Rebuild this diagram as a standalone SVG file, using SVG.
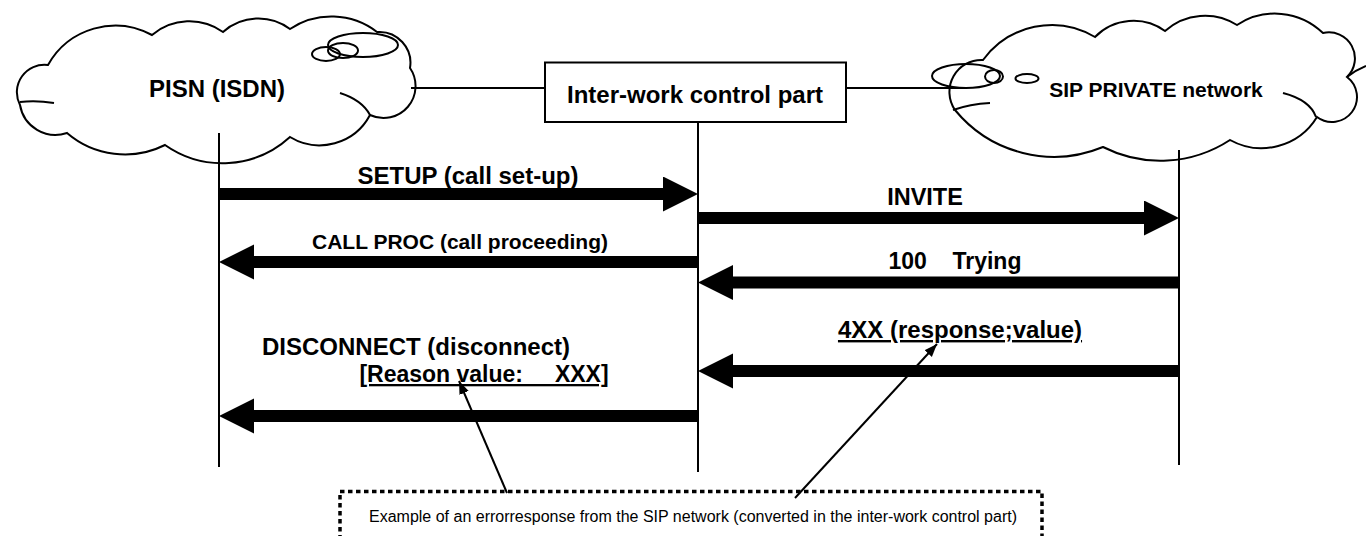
<svg xmlns="http://www.w3.org/2000/svg" width="1366" height="536" viewBox="0 0 1366 536">
<style>
.ln{fill:none;stroke:#000;stroke-width:2}
.cloud{fill:#fff;stroke:#000;stroke-width:2}
.lbl{font-family:"Liberation Sans",Arial,sans-serif;font-weight:bold;fill:#000;text-anchor:middle}
.msg{fill:none;stroke:#000;stroke-width:12}
.co{fill:none;stroke:#000;stroke-width:2}
.small{font-family:"Liberation Sans",Arial,sans-serif;font-size:16px;fill:#000;text-anchor:middle}
</style>
<defs>
<marker id="big" markerUnits="userSpaceOnUse" markerWidth="36" markerHeight="36" refX="0" refY="17.5" orient="auto">
<path d="M0,0 L35,17.5 L0,35 Z" fill="#000"/>
</marker>
<marker id="sm" markerUnits="userSpaceOnUse" markerWidth="14" markerHeight="12" refX="13" refY="5" orient="auto">
<path d="M0,0 L13,5 L0,10 Z" fill="#000"/>
</marker>
</defs>

<g id="pisn">
<path class="cloud" d="M48,65 A77,77 0 0 1 152,35 A58,58 0 0 1 223,32 A53,53 0 0 1 290,29 A75,75 0 0 1 377,32 A31,31 0 0 1 410,68 A32,32 0 0 1 370,115 A57,57 0 0 1 290,137 A100,100 0 0 1 165,145 A89,89 0 0 1 67,133 A36,36 0 0 1 20,105 A27.5,27.5 0 0 1 48,65 Z"/>
<path class="ln" d="M20,102 Q36,100 54,103 M340,93 Q362,100 370,115"/>
<ellipse class="ln" cx="363" cy="45" rx="35" ry="12"/>
<ellipse class="ln" cx="343" cy="50.5" rx="15" ry="7.5"/>
<ellipse class="ln" cx="326" cy="54" rx="14" ry="7"/>
<text class="lbl" x="217" y="97" font-size="24">PISN (ISDN)</text>
</g>

<g id="iwcp">
<rect x="545" y="62.5" width="301" height="59.5" fill="#fff" stroke="#000" stroke-width="2"/>
<text class="lbl" x="695" y="103" font-size="24">Inter-work control part</text>
</g>

<g id="sip">
<path class="cloud" d="M983,60 A85,85 0 0 1 1095,37 A54,54 0 0 1 1165,31 A60,60 0 0 1 1237,25 A69,69 0 0 1 1323,33 A26,26 0 0 1 1347,77 A25,25 0 0 1 1317,117 A65,65 0 0 1 1230,140 A127,127 0 0 1 1103,147 A128,128 0 0 1 955,110 A32,32 0 0 1 983,60 Z"/>
<path class="ln" d="M953,110 Q970,104 990,103 M1283,93 Q1310,100 1316,117 M1347,77 Q1356,70 1366,66"/>
<ellipse class="ln" cx="966" cy="76" rx="34" ry="12"/>
<ellipse class="ln" cx="994" cy="76.5" rx="9" ry="6.5"/>
<ellipse class="ln" cx="1027" cy="78.5" rx="11.5" ry="4.5"/>
<text class="lbl" x="1156" y="97" font-size="21">SIP PRIVATE network</text>
</g>

<g id="note">
<rect x="340" y="491.5" width="702" height="70" fill="none" stroke="#000" stroke-width="3.5" stroke-dasharray="4.5 3.5"/>
<text class="small" x="693" y="522">Example of an errorresponse from the SIP network (converted in the inter-work control part)</text>
</g>

<g id="connectors">
<line class="ln" x1="411" y1="88" x2="545" y2="88"/>
<line class="ln" x1="846" y1="88" x2="967" y2="88"/>
<line class="ln" x1="219" y1="133" x2="219" y2="467"/>
<line class="ln" x1="698" y1="122" x2="698" y2="472"/>
<line class="ln" x1="1179" y1="150" x2="1179" y2="465"/>

<line class="msg" x1="219" y1="194" x2="663" y2="194" marker-end="url(#big)"/>
<line class="msg" x1="698" y1="218" x2="1144" y2="218" marker-end="url(#big)"/>
<line class="msg" x1="698" y1="262" x2="254" y2="262" marker-end="url(#big)"/>
<line class="msg" x1="1179" y1="282.5" x2="733" y2="282.5" marker-end="url(#big)"/>
<line class="msg" x1="1179" y1="371" x2="733" y2="371" marker-end="url(#big)"/>
<line class="msg" x1="698" y1="416" x2="254" y2="416" marker-end="url(#big)"/>

<text class="lbl" x="468" y="184" font-size="24">SETUP (call set-up)</text>
<text class="lbl" x="925" y="205" font-size="23.5">INVITE</text>
<text class="lbl" x="460" y="249" font-size="21">CALL PROC (call proceeding)</text>
<text class="lbl" x="955" y="269" font-size="23" style="white-space:pre">100    Trying</text>
<text class="lbl" x="960" y="338" font-size="24" text-decoration="underline">4XX (response;value)</text>
<text class="lbl" x="416" y="355" font-size="24">DISCONNECT (disconnect)</text>
<text class="lbl" x="484" y="382" font-size="23" style="white-space:pre" text-decoration="underline">[Reason value:     XXX]</text>

<line class="co" x1="507" y1="493" x2="459" y2="381" marker-end="url(#sm)"/>
<line class="co" x1="795" y1="498" x2="937" y2="344" marker-end="url(#sm)"/>
</g>
</svg>
